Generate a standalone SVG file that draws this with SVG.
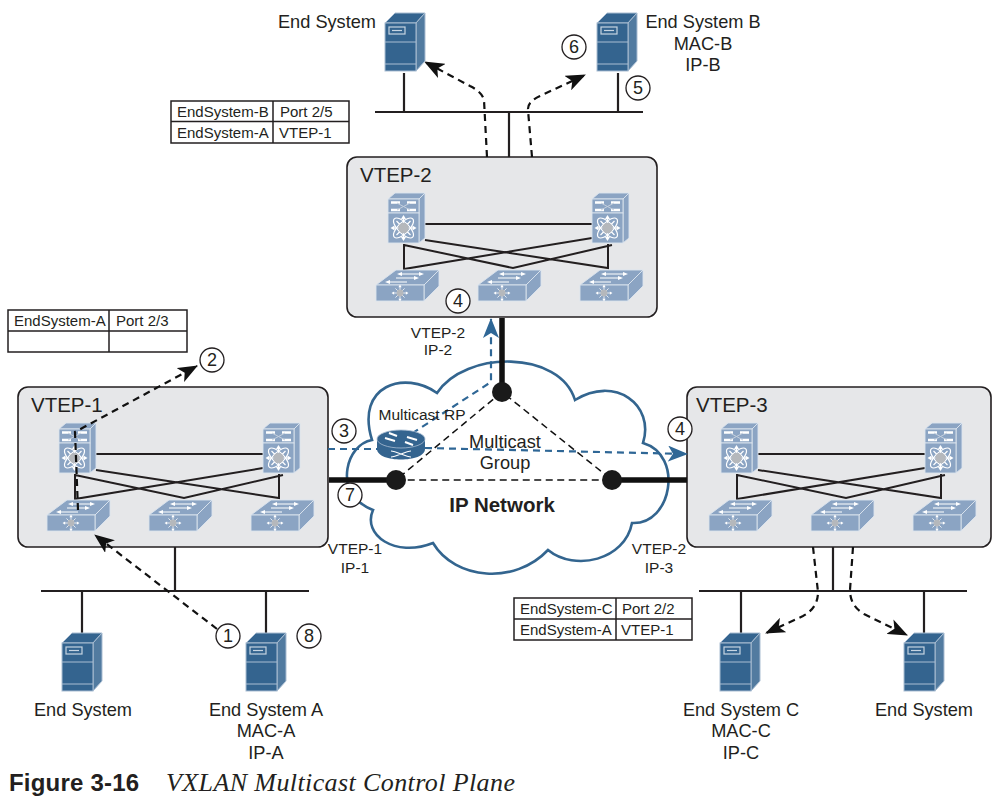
<svg xmlns="http://www.w3.org/2000/svg" xmlns:xlink="http://www.w3.org/1999/xlink" width="999" height="799" viewBox="0 0 999 799">
<style>
text{font-family:"Liberation Sans",Arial,sans-serif;fill:#231f20;font-size:18.2px}
.m{text-anchor:middle}
.t{font-size:15px}
.l{font-size:15.5px}
.v{font-size:20.5px}
.n{font-size:18px;text-anchor:middle}
.c{fill:#fff;stroke:#231f20;stroke-width:1.3}
.w{fill:none;stroke:#231f20;stroke-width:2}
.b{fill:none;stroke:#231f20;stroke-width:2.2}
.k{fill:none;stroke:#111;stroke-width:5.5}
.d{fill:none;stroke:#111;stroke-width:2.2;stroke-dasharray:7 5}
.e{fill:none;stroke:#111;stroke-width:1.5;stroke-dasharray:7 4.5}
.u{fill:none;stroke:#2f6796;stroke-width:2.2;stroke-dasharray:7 5}
.box{fill:#e6e7e9;stroke:#231f20;stroke-width:1.6}
.tb{fill:#fff;stroke:#231f20;stroke-width:1.5}
.sv{fill:#34648f;stroke:#a9bdd2;stroke-width:1}
.sw{fill:#8ba4c3;stroke:#dbe4ee;stroke-width:.9}
.wl{stroke:#fff;stroke-width:1.2;fill:none}
.wf{fill:#fff}
</style>
<defs>
<marker id="ab" markerUnits="userSpaceOnUse" markerWidth="20" markerHeight="16" viewBox="0 0 20 16" refX="19" refY="8" orient="auto"><path d="M0,0L20,8L0,16L5,8z" fill="#111"/></marker>
<marker id="au" markerUnits="userSpaceOnUse" markerWidth="20" markerHeight="16" viewBox="0 0 20 16" refX="19" refY="8" orient="auto"><path d="M0,0L20,8L0,16L5,8z" fill="#2f6796"/></marker>
<g id="server">
<path class="sv" d="M0,10L10,0H40L31,10z"/>
<path class="sv" d="M31,10L40,0V48L31,58z" fill-opacity=".85"/>
<rect class="sv" x="0" y="10" width="31" height="48"/>
<path d="M0,29H31M0,51H31" stroke="#a9bdd2" stroke-width="1"/>
<rect x="4" y="14" width="16" height="7" fill="none" stroke="#c6d4e2" stroke-width="1.2"/>
<path d="M7,17.5H17" stroke="#c6d4e2" stroke-width="1.2"/>
</g>
<g id="star">
<path class="wl" d="M-11,0H-4M4,0H11M0,-11V-4M0,4V11M-7,-7L-3,-3M7,-7L3,-3M-7,7L-3,3M7,7L3,3"/>
<path class="wf" d="M-13,0L-9,-2.500V2.500zM13,0L9,-2.500V2.500zM0,-13L-2.500,-9H2.500zM0,13L-2.500,9H2.500z"/>
<circle r="5.200" fill="#b5b8bc"/>
</g>
<g id="spine">
<path class="sw" d="M0,6L7,0H37L31,6z"/>
<path class="sw" d="M31,6L37,0V45L31,50z"/>
<rect class="sw" x="0" y="6" width="31" height="14"/>
<rect class="sw" x="0" y="20" width="31" height="30"/>
<path d="M3,9.500H12M19,9.500H28M3,17H12M19,17H28" stroke="#fff" stroke-width="2.400"/>
<path d="M9,10L22,17M22,10L9,17" stroke="#c5d0de" stroke-width="1" fill="none"/>
<g transform="translate(15.500,35)"><ellipse rx="5.500" ry="13" class="wl" stroke-width=".8" transform="rotate(45)"/><ellipse rx="5.500" ry="13" class="wl" stroke-width=".8" transform="rotate(-45)"/><use xlink:href="#star" href="#star"/></g>
</g>
<g id="leaf">
<path class="sw" d="M0,15L20,0H63L48,15z"/>
<path class="sw" d="M48,15L63,0V16L48,31z"/>
<rect class="sw" x="0" y="15" width="48" height="16"/>
<path class="wl" d="M25,4H44M20,8H40M13,12H31"/>
<path class="wf" d="M48,4L43,2V6zM21,4L26,2V6zM43,8L38,6V10zM9,12L14,10V14z"/>
<use xlink:href="#star" href="#star" transform="translate(24,23) scale(.65)"/>
</g>
<g id="fabric">
<path class="w" d="M78,67H245M57,87V112L245,81M78,83L261,111V87M57,88L166,111L265,88"/>
<use xlink:href="#spine" href="#spine" x="41" y="36"/>
<use xlink:href="#spine" href="#spine" x="245" y="36"/>
<use xlink:href="#leaf" href="#leaf" x="29" y="113"/>
<use xlink:href="#leaf" href="#leaf" x="131" y="113"/>
<use xlink:href="#leaf" href="#leaf" x="233" y="113"/>
</g>
</defs>
<rect width="999" height="799" fill="#fff"/>

<g id="cloud">
<path d="M362,504C366,507 370,509 373,510C362,535 395,558 433,543C455,580 515,585 548,550C575,572 625,560 632,523C672,525 684,455 643,443C655,405 615,375 575,400C560,350 465,350 437,393C405,370 355,385 372,440C345,445 337,490 362,504z" fill="#fff" stroke="#33658f" stroke-width="2.6"/>
</g>
<g id="vtep-2" transform="translate(347,157)"><rect class="box" width="310" height="160" rx="10"/><use xlink:href="#fabric" href="#fabric"/><text class="v" x="13" y="25">VTEP-2</text></g>
<g id="vtep-1" transform="translate(18,387)"><rect class="box" width="310" height="160" rx="10"/><use xlink:href="#fabric" href="#fabric"/><text class="v" x="13" y="25">VTEP-1</text></g>
<g id="vtep-3" transform="translate(687,387)"><rect class="box" width="304" height="160" rx="10"/><use xlink:href="#fabric" href="#fabric" x="-7"/><text class="v" x="9" y="25">VTEP-3</text></g>

<g id="connectors">
<path class="b" d="M375,112H643M404,73V112M618,73V112M509,112V157"/>
<path class="b" d="M41,591H309M82,591V633M266,591V633M175,547V591"/>
<path class="b" d="M699,591H967M741,591V633M924,591V633M833,547V591"/>
<path class="k" d="M502,318V392M329,480H396M612,480H687"/>
<path class="e" d="M502,392L396,480H612L502,392"/>
<path class="u" d="M328,449H380M425,448L687,454" marker-end="url(#au)"/>
<path class="u" d="M402,440L491,382V319" marker-end="url(#au)"/>
<path class="d" d="M487,157L484,100Q482,92 470,86L425,62" marker-end="url(#ab)"/>
<path class="d" d="M532,157L528,110Q527,102 540,96L585,75" marker-end="url(#ab)"/>
<path class="d" d="M813,547L818,592Q818,608 803,616L766,633" marker-end="url(#ab)"/>
<path class="d" d="M853,547L850,590Q850,606 864,614L907,635" marker-end="url(#ab)"/>
<path class="d" d="M217,629L95,535" marker-end="url(#ab)"/>
<path class="d" d="M78,510L75,432L197,366" marker-end="url(#ab)"/>
</g>
<g id="hubs" fill="#1a1a1a"><circle cx="502" cy="392" r="10"/><circle cx="396" cy="480" r="10"/><circle cx="612" cy="480" r="10"/></g>

<g id="router">
<path d="M377,439V449C377,463 425,463 425,449V439z" fill="#34648f"/>
<ellipse cx="401" cy="439" rx="24" ry="9" fill="#34648f" stroke="#a9bdd2" stroke-width=".8"/>
<path d="M385,438L395,441M417,440L407,437M397,436L389,433M405,442L413,445" stroke="#fff" stroke-width="2" fill="none"/>
<path class="wl" d="M391,451C396,451 406,457 411,457M391,457C396,457 406,451 411,451"/>
</g>

<g id="server-top-left"><use xlink:href="#server" href="#server" x="385" y="13"/><text class="m" x="327" y="28">End System</text></g>
<g id="server-b"><use xlink:href="#server" href="#server" x="597" y="13"/><text class="m" x="703" y="28">End System B</text><text class="m" x="703" y="50">MAC-B</text><text class="m" x="703" y="71">IP-B</text></g>
<g id="server-left"><use xlink:href="#server" href="#server" x="62" y="633"/><text class="m" x="83" y="716">End System</text></g>
<g id="server-a"><use xlink:href="#server" href="#server" x="246" y="633"/><text class="m" x="266" y="716">End System A</text><text class="m" x="266" y="737">MAC-A</text><text class="m" x="266" y="759">IP-A</text></g>
<g id="server-c"><use xlink:href="#server" href="#server" x="720" y="633"/><text class="m" x="741" y="716">End System C</text><text class="m" x="741" y="737">MAC-C</text><text class="m" x="741" y="759">IP-C</text></g>
<g id="server-right"><use xlink:href="#server" href="#server" x="904" y="633"/><text class="m" x="924" y="716">End System</text></g>

<g id="table-vtep2"><path class="tb" d="M171,101H349V143H171zM171,121.500H349M273,101V143"/><text class="t" x="177" y="117">EndSystem-B</text><text class="t" x="280" y="117">Port 2/5</text><text class="t" x="177" y="138">EndSystem-A</text><text class="t" x="279" y="138">VTEP-1</text></g>
<g id="table-vtep1"><path class="tb" d="M8,310H187V352H8zM8,331H187M109,310V352"/><text class="t" x="14" y="326">EndSystem-A</text><text class="t" x="116" y="326">Port 2/3</text></g>
<g id="table-vtep3"><path class="tb" d="M514,598H692V640H514zM514,619H692M616,598V640"/><text class="t" x="520" y="614">EndSystem-C</text><text class="t" x="622" y="614">Port 2/2</text><text class="t" x="520" y="635">EndSystem-A</text><text class="t" x="621" y="635">VTEP-1</text></g>

<g id="labels">
<text class="l m" x="438" y="338">VTEP-2</text><text class="l m" x="438" y="355">IP-2</text>
<text class="l m" x="355" y="554">VTEP-1</text><text class="l m" x="355" y="573">IP-1</text>
<text class="l m" x="659" y="554">VTEP-2</text><text class="l m" x="659" y="573">IP-3</text>
<text class="l m" x="422" y="420">Multicast RP</text>
<text class="m" x="505" y="448">Multicast</text><text class="m" x="505" y="469">Group</text>
<text class="m" x="502" y="512" style="font-size:20.5px;font-weight:bold">IP Network</text>
</g>
<g id="steps">
<circle class="c" cx="228" cy="636" r="12"/><text class="n" x="228" y="642">1</text>
<circle class="c" cx="212" cy="360" r="12"/><text class="n" x="212" y="366">2</text>
<circle class="c" cx="344" cy="431" r="12"/><text class="n" x="344" y="437">3</text>
<circle class="c" cx="458" cy="301" r="12"/><text class="n" x="458" y="307">4</text>
<circle class="c" cx="680" cy="429" r="12"/><text class="n" x="680" y="435">4</text>
<circle class="c" cx="638" cy="88" r="12"/><text class="n" x="638" y="94">5</text>
<circle class="c" cx="574" cy="47" r="12"/><text class="n" x="574" y="53">6</text>
<circle class="c" cx="350" cy="495" r="12"/><text class="n" x="350" y="501">7</text>
<circle class="c" cx="309" cy="636" r="12"/><text class="n" x="309" y="642">8</text>
</g>
<g id="caption"><text x="9" y="791" style="font-size:24px;font-weight:bold;letter-spacing:.2px">Figure 3-16</text><text x="166" y="791" style="font-family:'Liberation Serif',serif;font-style:italic;font-size:26px;letter-spacing:.4px">VXLAN Multicast Control Plane</text></g>
</svg>
